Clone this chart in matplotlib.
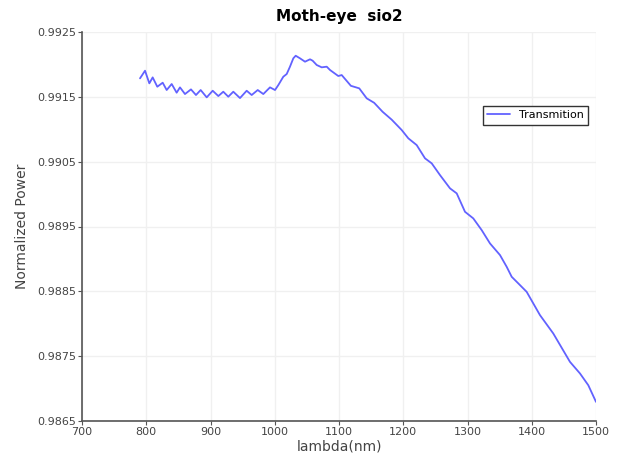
import matplotlib
matplotlib.use("Agg")
import matplotlib.pyplot as plt

# wavelength (nm) and normalized transmitted power
lam = [790.3, 798.1, 804.8, 810.0, 817.2, 825.6, 831.8, 839.6, 847.3, 852.5,
       860.3, 869.6, 877.4, 884.7, 894.1, 903.4, 912.2, 919.9, 927.7, 935.5,
       945.9, 956.3, 964.1, 973.5, 982.2, 992.6, 1000.4, 1005.6, 1013.3, 1018.6,
       1023.7, 1028.9, 1032.6, 1039.3, 1047.1, 1054.9, 1059.0, 1065.3, 1073.1, 1080.9,
       1086.0, 1098.9, 1104.2, 1118.5, 1131.5, 1143.1, 1154.7, 1167.8, 1182.0, 1197.6,
       1207.9, 1220.9, 1233.9, 1244.3, 1257.2, 1272.8, 1283.2, 1296.1, 1309.0, 1322.1,
       1335.0, 1350.6, 1361.0, 1368.8, 1379.1, 1392.1, 1412.8, 1433.5, 1459.5, 1475.1,
       1488.0, 1500.0]
power = [0.991785, 0.991903, 0.991708, 0.991800, 0.991656, 0.991718, 0.991605, 0.991698, 0.991564, 0.991646,
         0.991543, 0.991615, 0.991528, 0.991605, 0.991492, 0.991594, 0.991512, 0.991579, 0.991502, 0.991579,
         0.991481, 0.991594, 0.991528, 0.991605, 0.991543, 0.991646, 0.991605, 0.991682, 0.991810, 0.991852,
         0.991965, 0.992094, 0.992134, 0.992094, 0.992042, 0.992079, 0.992057, 0.991991, 0.991955, 0.991965,
         0.991914, 0.991821, 0.991836, 0.991670, 0.991631, 0.991477, 0.991408, 0.991270, 0.991148, 0.990988,
         0.990860, 0.990756, 0.990551, 0.990474, 0.990293, 0.990088, 0.990011, 0.989727, 0.989625, 0.989444,
         0.989239, 0.989059, 0.988878, 0.988724, 0.988622, 0.988492, 0.988133, 0.987850, 0.987412, 0.987233,
         0.987052, 0.986795]

xticks = [700, 800, 900, 1000, 1100, 1200, 1300, 1400, 1500]
yticks = [0.9865, 0.9875, 0.9885, 0.9895, 0.9905, 0.9915, 0.9925]

fig = plt.figure(figsize=(6.18, 4.57), dpi=100)
ax = fig.add_axes([82 / 618, 36 / 457, 514 / 618, 389 / 457])

ax.plot(lam, power, color="#6262ff", lw=1.3, label="Transmition",
        solid_joinstyle="round", solid_capstyle="round")

ax.set_xlim(700, 1500)
ax.set_ylim(0.9865, 0.9925)
ax.set_xticks(xticks)
ax.set_yticks(yticks)
ax.set_yticklabels([f"{v:.4f}" for v in yticks])
ax.grid(True, color="#f0f0f0", lw=1)
ax.set_axisbelow(True)

for s in ["top", "right"]:
    ax.spines[s].set_visible(False)
for s in ["left", "bottom"]:
    ax.spines[s].set_color("#555555")
    ax.spines[s].set_linewidth(1.2)
ax.tick_params(colors="#555555", labelcolor="#444444", labelsize=8, length=3, pad=1)

ax.set_title("Moth-eye  sio2", fontsize=11, fontweight="bold", pad=8)
ax.set_xlabel("lambda(nm)", fontsize=10, color="#444444", labelpad=2)
ax.set_ylabel("Normalized Power", fontsize=10, color="#444444", labelpad=6)

leg = ax.legend(loc="upper right", bbox_to_anchor=(0.995, 0.825), fontsize=8,
                fancybox=False, framealpha=1, borderpad=0.4, handlelength=2)
leg.get_frame().set_edgecolor("#333333")
leg.get_frame().set_linewidth(1.0)

fig.savefig("out.png", dpi=100)
